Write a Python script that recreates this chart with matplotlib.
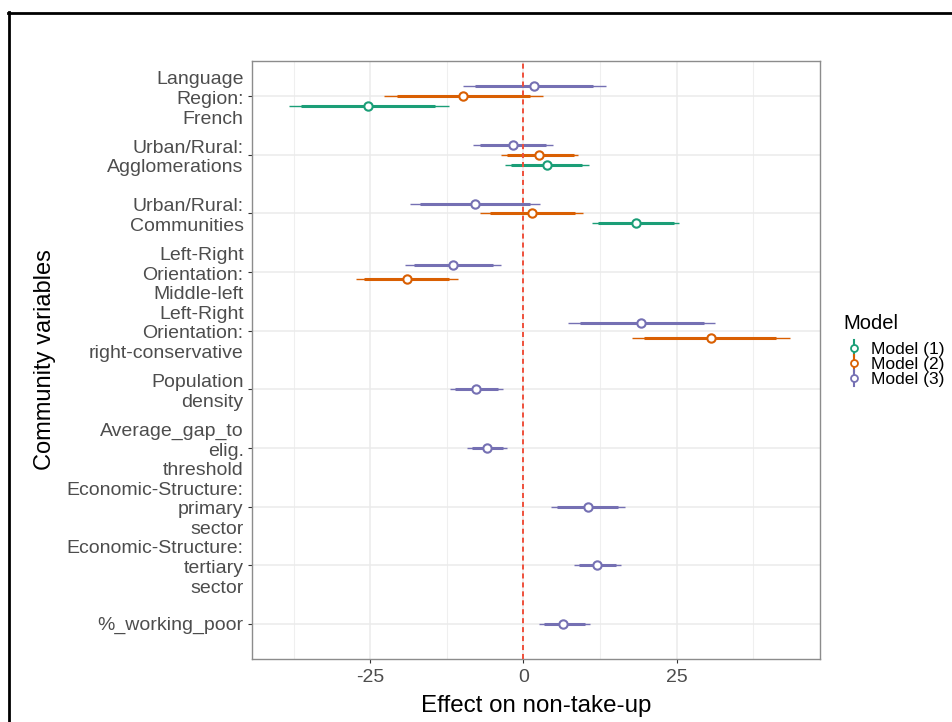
import numpy as np
import matplotlib
matplotlib.use("Agg")
import matplotlib.pyplot as plt
from matplotlib.lines import Line2D
from matplotlib.legend_handler import HandlerBase

plt.rcParams['font.family'] = ['Liberation Sans', 'DejaVu Sans']

variables = [
    "Language\nRegion:\nFrench",
    "Urban/Rural:\nAgglomerations",
    "Urban/Rural:\nCommunities",
    "Left-Right\nOrientation:\nMiddle-left",
    "Left-Right\nOrientation:\nright-conservative",
    "Population\ndensity",
    "Average_gap_to\nelig.\nthreshold",
    "Economic-Structure:\nprimary\nsector",
    "Economic-Structure:\ntertiary\nsector",
    "%_working_poor",
]
models = ["Model (1)", "Model (2)", "Model (3)"]
colors = ["#1B9E77", "#D95F02", "#7570B3"]
nan = np.nan

# point estimates (one list per model, same order as variables; nan = not in model)
est = [
    [-25.4, 3.8, 18.4, nan, nan, nan, nan, nan, nan, nan],
    [-9.9, 2.6, 1.4, -19.0, 30.6, nan, nan, nan, nan, nan],
    [1.8, -1.7, -7.9, -11.5, 19.2, -7.7, -6.0, 10.5, 12.0, 6.5],
]
# outer (thin) interval
outer_lo = [
    [-38.3, -3.0, 11.2, nan, nan, nan, nan, nan, nan, nan],
    [-22.8, -3.7, -7.1, -27.3, 17.7, nan, nan, nan, nan, nan],
    [-9.8, -8.3, -18.5, -19.3, 7.3, -12.0, -9.2, 4.5, 8.3, 2.6],
]
outer_hi = [
    [-12.2, 10.7, 25.4, nan, nan, nan, nan, nan, nan, nan],
    [3.2, 8.9, 9.8, -10.6, 43.5, nan, nan, nan, nan, nan],
    [13.5, 4.8, 2.7, -3.7, 31.3, -3.3, -2.6, 16.6, 15.9, 10.8],
]
# inner (thick) interval
inner_lo = [
    [-36.3, -2.1, 12.2, nan, nan, nan, nan, nan, nan, nan],
    [-20.6, -2.7, -5.5, -26.1, 19.6, nan, nan, nan, nan, nan],
    [-7.9, -7.1, -16.8, -17.9, 9.2, -11.1, -8.4, 5.4, 9.0, 3.3],
]
inner_hi = [
    [-14.4, 9.6, 24.5, nan, nan, nan, nan, nan, nan, nan],
    [1.1, 8.2, 8.4, -12.1, 41.3, nan, nan, nan, nan, nan],
    [11.4, 3.7, 1.0, -4.9, 29.4, -4.1, -3.3, 15.5, 15.1, 10.1],
]
xticks = [-25, 0, 25]

fig = plt.figure(figsize=(9.52, 7.22), dpi=100)
ax = fig.add_axes([0.2647, 0.0873, 0.5966, 0.8282])

est_a = np.array(est)
nvar = len(variables)
width = 0.5

for i in range(nvar):
    present = [m for m in range(len(models)) if not np.isnan(est_a[m, i])]
    k = len(present)
    for j, m in enumerate(present):
        # dodge: last model on top (axis inverted, so smaller y is higher)
        off = width * ((k - 1 - j) + 0.5) / k - width / 2
        y = i + off
        c = colors[m]
        ax.plot([outer_lo[m][i], outer_hi[m][i]], [y, y], color=c, lw=1.0,
                solid_capstyle='butt', zorder=3)
        ax.plot([inner_lo[m][i], inner_hi[m][i]], [y, y], color=c, lw=2.2,
                solid_capstyle='butt', zorder=3)
        ax.plot([est[m][i]], [y], marker='o', ms=6, mfc='white', mec=c,
                mew=1.5, ls='none', zorder=5)

ax.axvline(0, color='#F0503C', lw=1.4, ls=(0, (2.6, 2.0)), zorder=4)

ax.set_xlim(-44.3, 48.4)
ax.set_ylim(nvar - 1 + 0.6, -0.6)
ax.set_xticks(xticks)
ax.set_xticklabels([str(t) for t in xticks])
ax.set_xticks([-37.5, -12.5, 12.5, 37.5], minor=True)
ax.set_yticks(range(nvar))
ax.set_yticklabels(variables, linespacing=1.2)

ax.grid(which='major', color='#EBEBEB', lw=1.1, zorder=0)
ax.grid(which='minor', axis='x', color='#EFEFEF', lw=0.8, zorder=0)
ax.set_axisbelow(True)
ax.tick_params(which='major', length=3, width=0.8, color='#333333',
               labelcolor='#4D4D4D', labelsize=14, pad=3)
ax.tick_params(axis='x', which='major', pad=4.5)
ax.tick_params(which='minor', length=0)
for s in ax.spines.values():
    s.set_color('#8C8C8C')
    s.set_linewidth(1.0)

ax.set_xlabel("Effect on non-take-up", fontsize=17.4, va='center')
ax.xaxis.set_label_coords(0.5, -0.078)
ax.set_ylabel("Community variables", fontsize=17, va='center')
ax.yaxis.set_label_coords(-0.364, 0.5)


class PointRangeV(HandlerBase):
    def create_artists(self, legend, orig_handle, xdescent, ydescent,
                       width, height, fontsize, trans):
        c = orig_handle.get_color()
        cx = width / 2 - xdescent
        cy = height / 2 - ydescent
        seg = Line2D([cx, cx], [cy - 0.65 * height, cy + 0.65 * height],
                     color=c, lw=1.5, transform=trans)
        dot = Line2D([cx], [cy], marker='o', ms=5, mfc='white', mec=c,
                     mew=1.3, ls='none', transform=trans)
        return [seg, dot]


handles = [Line2D([], [], color=c) for c in colors]
leg = fig.legend(handles, models, loc='upper left',
                 bbox_to_anchor=(846 / 952, 1 - 342 / 722),
                 frameon=False, fontsize=12.5, borderpad=0,
                 labelspacing=0.0, handlelength=0.95, handletextpad=0.5,
                 borderaxespad=0, handler_map={Line2D: PointRangeV()})
fig.text(843 / 952, 1 - 323 / 722, "Model", fontsize=14.5,
         ha='left', va='center')

# outer frame (top and left edges visible in the reference)
fig.add_artist(Line2D([8 / 952, 1.0], [1 - 13 / 722, 1 - 13 / 722],
                      color='black', lw=2, transform=fig.transFigure))
fig.add_artist(Line2D([9 / 952, 9 / 952], [0, 1 - 12 / 722],
                      color='black', lw=2, transform=fig.transFigure))

fig.savefig("out.png", dpi=100)
